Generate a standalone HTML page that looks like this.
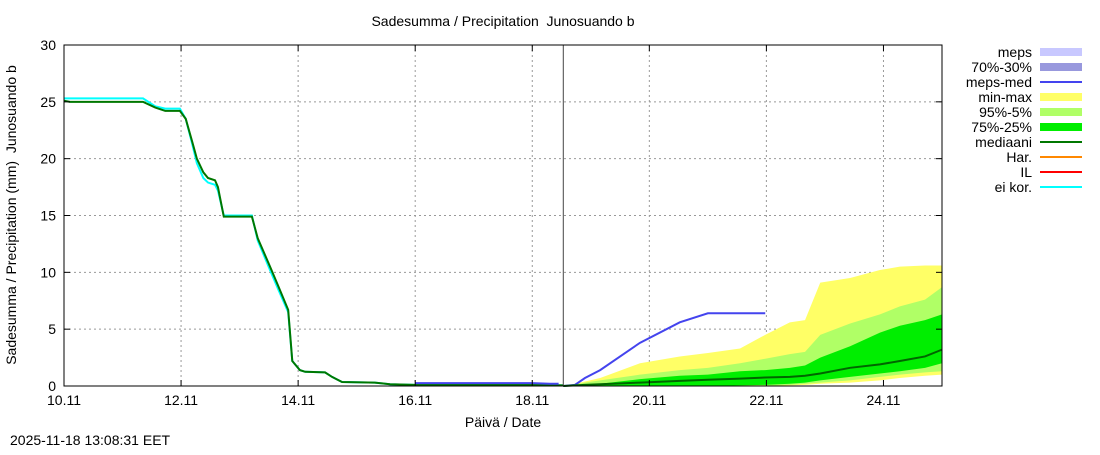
<!DOCTYPE html>
<html><head><meta charset="utf-8"><style>
body{margin:0;background:#fff;}
svg{font-family:"Liberation Sans",sans-serif;font-size:14px;}
</style></head><body>
<svg id="chart" width="1100" height="450">
<text x="503" y="26" text-anchor="middle">Sadesumma / Precipitation&#160; Junosuando b</text>
<text transform="translate(16,215) rotate(-90)" text-anchor="middle">Sadesumma / Precipitation (mm)&#160; Junosuando b</text>
<text x="503" y="427" text-anchor="middle">Päivä / Date</text>
<text x="10" y="445">2025-11-18 13:08:31 EET</text>
<g id="grid"></g><g id="bands"></g><g id="lines"></g><g id="axes"></g><g id="legend"></g>
</svg>
<script>
const xTicks=["10.11","12.11","14.11","16.11","18.11","20.11","22.11","24.11"];
const yTicks=[0,5,10,15,20,25,30];
const obsX=[0,0.1,1.35,1.56,1.73,1.98,2.08,2.19,2.27,2.38,2.46,2.58,2.63,2.73,3.21,3.31,3.52,3.66,3.83,3.9,4.03,4.12,4.46,4.58,4.75,5.31,5.57,6,8,8.53];
const obsY=[25.1,25.0,25.0,24.5,24.2,24.2,23.5,21.5,20,18.8,18.3,18.1,17.5,14.9,14.9,13,10.5,8.8,6.7,2.2,1.4,1.25,1.2,0.8,0.35,0.3,0.15,0.1,0.1,0.05];
const corY=[25.3,25.3,25.3,24.6,24.4,24.4,23.5,21.3,19.6,18.3,17.9,17.7,17.2,15.0,15.0,12.8,10.2,8.5,6.5,2.2,1.4,1.25,1.2,0.8,0.35,0.3,0.15,0.1,0.1,0.05];
const mepsHistX=[6,8,8.3,8.45];
const mepsHistY=[0.25,0.25,0.2,0.2];
const fcX=[8.53,8.73,8.9,9.16,9.84,10.52,11.0,11.55,11.98,12.4,12.66,12.92,13.43,13.94,14.28,14.71,15.0];
const mepsMed=[0,0.1,0.7,1.4,3.8,5.6,6.4,6.4,6.4,null,null,null,null,null,null,null,null];
const median=[0,0.05,0.1,0.15,0.3,0.45,0.55,0.65,0.75,0.8,0.9,1.1,1.6,1.9,2.2,2.6,3.2];
const minmaxHi=[0,0.2,0.4,0.7,2.0,2.6,2.9,3.3,4.5,5.6,5.8,9.1,9.5,10.2,10.5,10.6,10.6];
const minmaxLo=[0,0,0,0,0,0,0,0,0,0.05,0.1,0.2,0.3,0.5,0.7,0.9,1.0];
const p95Hi=[0,0.1,0.3,0.5,1.0,1.4,1.6,2.0,2.4,2.8,3.0,4.5,5.5,6.3,7.0,7.6,8.7];
const p95Lo=[0,0,0,0,0,0,0,0,0,0.1,0.2,0.3,0.5,0.8,1.0,1.2,1.3];
const p75Hi=[0,0.05,0.1,0.2,0.6,0.9,1.0,1.3,1.4,1.6,1.8,2.5,3.5,4.7,5.3,5.8,6.3];
const p75Lo=[0,0,0,0,0,0,0,0.05,0.1,0.2,0.3,0.5,0.8,1.1,1.3,1.6,2.0];
const nowDay=8.53;

const X0=64,X1=942,Y0=386,Y1=45;
const xs=d=>X0+d*(X1-X0)/15;
const ys=v=>Y0-v*(Y0-Y1)/30;
const NS="http://www.w3.org/2000/svg";
function mk(tag,attrs,parent){const e=document.createElementNS(NS,tag);for(const k in attrs)e.setAttribute(k,attrs[k]);parent.appendChild(e);return e;}
const grid=document.getElementById('grid'),bands=document.getElementById('bands'),lines=document.getElementById('lines'),axes=document.getElementById('axes'),legend=document.getElementById('legend');
yTicks.forEach(v=>{
 if(v>0&&v<30){const g=mk('line',{x1:X0,x2:X1,y1:ys(v),y2:ys(v),stroke:'#999','stroke-dasharray':'2,3'},grid);
 
 }
 const t=mk('text',{x:X0-8,y:ys(v)+5,'text-anchor':'end'},axes);t.textContent=v;
 
 
 mk('line',{x1:X0,x2:X0+6,y1:ys(v),y2:ys(v),stroke:'#000'},axes);
 mk('line',{x1:X1,x2:X1-6,y1:ys(v),y2:ys(v),stroke:'#000'},axes);
});
xTicks.forEach((s,i)=>{
 const x=xs(i*2);
 if(i>0){const g=mk('line',{x1:x,x2:x,y1:Y1,y2:Y0,stroke:'#999','stroke-dasharray':'2,3'},grid);
 
 }
 const t=mk('text',{x:x,y:Y0+19,'text-anchor':'middle'},axes);t.textContent=s;
 
 
 mk('line',{x1:x,x2:x,y1:Y0,y2:Y0-6,stroke:'#000'},axes);
 mk('line',{x1:x,x2:x,y1:Y1,y2:Y1+6,stroke:'#000'},axes);
});
const fr=mk('rect',{x:X0,y:Y1,width:X1-X0,height:Y0-Y1,fill:'none',stroke:'#000'},axes);


function band(hi,lo,color,name){
 let p=fcX.map((d,i)=>xs(d)+','+ys(hi[i]));
 for(let i=fcX.length-1;i>=0;i--)p.push(xs(fcX[i])+','+ys(lo[i]));
 const e=mk('polygon',{points:p.join(' '),fill:color},bands);
 
 
}
band(minmaxHi,minmaxLo,'#ffff66','min-max-band');
band(p95Hi,p95Lo,'#b0ff66','p95-5-band');
band(p75Hi,p75Lo,'#00ee00','p75-25-band');
function line(xa,ya,color,w,name){
 const p=[];xa.forEach((d,i)=>{if(ya[i]!=null)p.push(xs(d)+','+ys(ya[i]));});
 const e=mk('polyline',{points:p.join(' '),fill:'none',stroke:color,'stroke-width':w},lines);
 
 
}
line(obsX,corY,'#00ffff',2,'ei-kor-line');
line(obsX,obsY,'#007700',2,'observed-median-line');
line(mepsHistX,mepsHistY,'#4444ee',2,'meps-med-history-line');
line(fcX,mepsMed,'#4444ee',2,'meps-med-line');
line(fcX,median,'#006600',2,'mediaani-line');
const nl=mk('line',{x1:xs(nowDay),x2:xs(nowDay),y1:Y1,y2:Y0,stroke:'#444','stroke-width':1},lines);


const leg=[["meps","#c8c8ff",8],["70%-30%","#9898dd",8],["meps-med","#4444ee",2],["min-max","#ffff66",8],["95%-5%","#b0ff66",8],["75%-25%","#00ee00",8],["mediaani","#007700",2],["Har.","#ff8800",2],["IL","#ff0000",2],["ei kor.","#00ffff",2]];
leg.forEach((l,i)=>{
 const y=52+i*15;
 const t=mk('text',{x:1032,y:y+5,'text-anchor':'end'},legend);t.textContent=l[0];
 
 
 const s=mk('line',{x1:1040,x2:1082,y1:y,y2:y,stroke:l[1],'stroke-width':l[2]},legend);
 
 
});
</script>
</body></html>
